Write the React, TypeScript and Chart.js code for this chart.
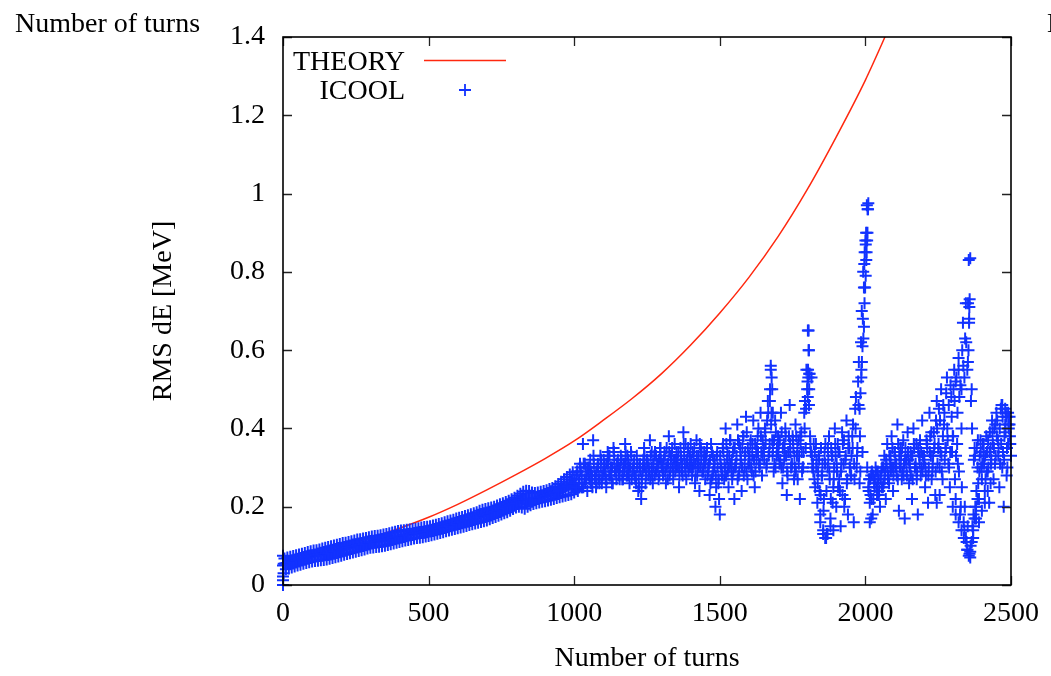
import React, { useEffect, useRef } from "react";
import { Chart, registerables } from "chart.js";

Chart.register(...registerables);

// ---------------- DATA ----------------
const xTitle = "Number of turns";
const yTitle = "RMS dE [MeV]";
const theoryLabel = "THEORY";
const icoolLabel = "ICOOL";

const xTickValues = [0, 500, 1000, 1500, 2000, 2500];
const xTickLabels = ["0", "500", "1000", "1500", "2000", "2500"];
const yTickValues = [0, 0.2, 0.4, 0.6, 0.8, 1.0, 1.2, 1.4];
const yTickLabels = ["0", "0.2", "0.4", "0.6", "0.8", "1", "1.2", "1.4"];

// Theory curve (every 100 turns)
const theoryTurns = [0, 100, 200, 300, 400, 500, 600, 700, 800, 900, 1000, 1100, 1200, 1300, 1400, 1500, 1600, 1700, 1800, 1900, 2000, 2100];
const theoryRms = [0.068, 0.082, 0.099, 0.12, 0.145, 0.173, 0.206, 0.243, 0.282, 0.323, 0.368, 0.421, 0.477, 0.54, 0.613, 0.695, 0.786, 0.89, 1.01, 1.145, 1.29, 1.455];

// ICOOL: one value every 5 turns, from turn 0 to turn 2500
const icoolStart = 0;
const icoolStep = 5;
const icoolMain = [
  // 0 - 95
  0.012, 0.068, 0.040, 0.070, 0.042, 0.072, 0.045, 0.074, 0.047, 0.076,
  0.050, 0.078, 0.052, 0.080, 0.054, 0.082, 0.056, 0.084, 0.058, 0.086,
  // 100 - 195
  0.060, 0.088, 0.061, 0.089, 0.062, 0.091, 0.063, 0.093, 0.064, 0.095,
  0.065, 0.097, 0.067, 0.099, 0.069, 0.101, 0.071, 0.103, 0.073, 0.105,
  // 200 - 295
  0.075, 0.107, 0.077, 0.108, 0.079, 0.110, 0.081, 0.112, 0.083, 0.114,
  0.085, 0.116, 0.087, 0.117, 0.089, 0.119, 0.091, 0.120, 0.093, 0.122,
  // 300 - 395
  0.095, 0.124, 0.096, 0.125, 0.097, 0.126, 0.098, 0.127, 0.099, 0.129,
  0.100, 0.130, 0.102, 0.132, 0.104, 0.134, 0.106, 0.136, 0.108, 0.138,
  // 400 - 495
  0.110, 0.139, 0.112, 0.140, 0.114, 0.141, 0.115, 0.142, 0.117, 0.143,
  0.119, 0.144, 0.120, 0.145, 0.121, 0.147, 0.122, 0.148, 0.124, 0.149,
  // 500 - 595
  0.125, 0.150, 0.127, 0.152, 0.129, 0.154, 0.131, 0.156, 0.133, 0.158,
  0.135, 0.160, 0.137, 0.163, 0.139, 0.165, 0.141, 0.167, 0.143, 0.170,
  // 600 - 695
  0.145, 0.172, 0.147, 0.174, 0.149, 0.176, 0.151, 0.178, 0.153, 0.181,
  0.155, 0.183, 0.157, 0.186, 0.159, 0.190, 0.161, 0.192, 0.163, 0.194,
  // 700 - 795
  0.165, 0.196, 0.168, 0.198, 0.171, 0.200, 0.174, 0.203, 0.177, 0.206,
  0.180, 0.209, 0.183, 0.212, 0.186, 0.215, 0.190, 0.219, 0.194, 0.223,
  // 800 - 895
  0.198, 0.228, 0.200, 0.233, 0.198, 0.238, 0.195, 0.241, 0.200, 0.240,
  0.204, 0.236, 0.207, 0.235, 0.209, 0.236, 0.211, 0.238, 0.213, 0.240,
  // 900 - 995
  0.214, 0.242, 0.216, 0.245, 0.218, 0.248, 0.220, 0.252, 0.222, 0.258,
  0.224, 0.264, 0.226, 0.270, 0.228, 0.276, 0.230, 0.282, 0.232, 0.288,
  // 1000
  0.236,
  // 1005 - 1100
  0.245, 0.29, 0.26, 0.31, 0.25, 0.36, 0.27, 0.30, 0.24, 0.28,
  0.32, 0.26, 0.37, 0.28, 0.25, 0.30, 0.27, 0.33, 0.26, 0.29,
  // 1105 - 1200
  0.31, 0.25, 0.34, 0.28, 0.30, 0.26, 0.35, 0.29, 0.27, 0.32,
  0.29, 0.33, 0.27, 0.31, 0.36, 0.28, 0.30, 0.26, 0.34, 0.29,
  // 1205 - 1300
  0.31, 0.27, 0.33, 0.24, 0.30, 0.22, 0.29, 0.35, 0.26, 0.32,
  0.28, 0.37, 0.30, 0.26, 0.33, 0.29, 0.31, 0.27, 0.35, 0.30,
  // 1305 - 1400
  0.28, 0.34, 0.26, 0.31, 0.38, 0.29, 0.33, 0.27, 0.36, 0.30,
  0.32, 0.25, 0.35, 0.29, 0.39, 0.31, 0.27, 0.34, 0.30, 0.36,
  // 1405 - 1500
  0.28, 0.33, 0.26, 0.37, 0.31, 0.24, 0.35, 0.29, 0.32, 0.27,
  0.34, 0.30, 0.23, 0.36, 0.28, 0.31, 0.20, 0.33, 0.26, 0.18,
  // 1505 - 1600
  0.30, 0.35, 0.27, 0.40, 0.32, 0.25, 0.37, 0.29, 0.34, 0.22,
  0.31, 0.41, 0.28, 0.35, 0.24, 0.38, 0.30, 0.43, 0.27, 0.33,
  // 1605 - 1700
  0.36, 0.29, 0.42, 0.25, 0.34, 0.38, 0.31, 0.44, 0.28, 0.35,
  0.40, 0.30, 0.47, 0.34, 0.55, 0.37, 0.29, 0.42, 0.33, 0.38,
  // 1705 - 1800
  0.31, 0.44, 0.26, 0.36, 0.40, 0.23, 0.34, 0.46, 0.30, 0.38,
  0.27, 0.41, 0.33, 0.37, 0.22, 0.39, 0.30, 0.44, 0.35, 0.50,
  // 1805 - 1900
  0.60, 0.38, 0.53, 0.31, 0.27, 0.36, 0.21, 0.33, 0.18, 0.28,
  0.14, 0.34, 0.12, 0.30, 0.38, 0.17, 0.33, 0.25, 0.40, 0.20,
  // 1905 - 2000
  0.36, 0.27, 0.15, 0.39, 0.31, 0.22, 0.42, 0.18, 0.35, 0.28,
  0.38, 0.16, 0.45, 0.30, 0.52, 0.26, 0.62, 0.34, 0.76, 0.88,
  // 2005 - 2100
  0.97, 0.25, 0.21, 0.28, 0.18, 0.26, 0.30, 0.23, 0.27, 0.20,
  0.29, 0.25, 0.33, 0.22, 0.36, 0.28, 0.31, 0.38, 0.24, 0.34,
  // 2105 - 2200
  0.30, 0.41, 0.19, 0.35, 0.27, 0.37, 0.17, 0.32, 0.39, 0.26,
  0.34, 0.22, 0.40, 0.30, 0.36, 0.18, 0.33, 0.28, 0.42, 0.31,
  // 2205 - 2300
  0.25, 0.37, 0.21, 0.44, 0.33, 0.29, 0.39, 0.23, 0.47, 0.35,
  0.30, 0.50, 0.27, 0.41, 0.35, 0.53, 0.31, 0.25, 0.48, 0.38,
  // 2305 - 2400
  0.55, 0.22, 0.36, 0.58, 0.18, 0.40, 0.67, 0.14, 0.72, 0.09,
  0.83, 0.07, 0.50, 0.12, 0.35, 0.17, 0.30, 0.22, 0.37, 0.27,
  // 2405 - 2500
  0.33, 0.24, 0.38, 0.29, 0.21, 0.35, 0.42, 0.27, 0.31, 0.44,
  0.37, 0.25, 0.45, 0.30, 0.20, 0.41, 0.28, 0.36, 0.43, 0.33,
];

// ICOOL: band middle, every 5 turns from turn 2.5 to 997.5
const icoolMidStart = 2.5;
const icoolMid = [
  0.054, 0.055, 0.056, 0.057, 0.058, 0.059, 0.060, 0.061, 0.062, 0.063,
  0.064, 0.066, 0.067, 0.068, 0.069, 0.070, 0.071, 0.072, 0.073, 0.074,
  0.074, 0.075, 0.076, 0.077, 0.078, 0.078, 0.079, 0.080, 0.080, 0.081,
  0.081, 0.082, 0.083, 0.084, 0.085, 0.086, 0.087, 0.088, 0.089, 0.090,
  0.091, 0.092, 0.093, 0.094, 0.095, 0.096, 0.096, 0.097, 0.098, 0.099,
  0.100, 0.101, 0.102, 0.103, 0.104, 0.105, 0.106, 0.107, 0.108, 0.109,
  0.110, 0.110, 0.111, 0.111, 0.112, 0.112, 0.113, 0.113, 0.114, 0.114,
  0.115, 0.116, 0.117, 0.118, 0.119, 0.120, 0.121, 0.122, 0.123, 0.124,
  0.125, 0.126, 0.127, 0.127, 0.128, 0.128, 0.129, 0.129, 0.130, 0.131,
  0.132, 0.132, 0.133, 0.133, 0.134, 0.135, 0.135, 0.136, 0.136, 0.137,
  0.138, 0.139, 0.140, 0.141, 0.142, 0.143, 0.144, 0.145, 0.145, 0.146,
  0.148, 0.149, 0.150, 0.151, 0.152, 0.153, 0.154, 0.155, 0.156, 0.157,
  0.159, 0.160, 0.161, 0.162, 0.163, 0.164, 0.165, 0.166, 0.166, 0.167,
  0.169, 0.170, 0.171, 0.173, 0.174, 0.175, 0.176, 0.177, 0.178, 0.179,
  0.181, 0.182, 0.183, 0.185, 0.186, 0.187, 0.188, 0.190, 0.191, 0.192,
  0.195, 0.196, 0.198, 0.199, 0.201, 0.202, 0.204, 0.205, 0.207, 0.209,
  0.213, 0.215, 0.216, 0.217, 0.218, 0.218, 0.219, 0.220, 0.220, 0.220,
  0.220, 0.221, 0.221, 0.222, 0.222, 0.223, 0.224, 0.225, 0.226, 0.227,
  0.228, 0.229, 0.230, 0.232, 0.233, 0.234, 0.236, 0.237, 0.238, 0.240,
  0.244, 0.246, 0.248, 0.250, 0.252, 0.254, 0.256, 0.257, 0.258, 0.260,
];

// ICOOL: second set, every 5 turns from turn 1002.5 to 2497.5
const icoolOffsetStart = 1002.5;
const icoolOffset = [
  0.26, 0.28, 0.24, 0.27, 0.29, 0.25, 0.31, 0.26, 0.28, 0.30,
  0.27, 0.29, 0.25, 0.31, 0.28, 0.26, 0.30, 0.27, 0.32, 0.28,
  0.29, 0.27, 0.31, 0.33, 0.28, 0.30, 0.26, 0.32, 0.29, 0.31,
  0.28, 0.30, 0.32, 0.27, 0.29, 0.31, 0.33, 0.28, 0.30, 0.27,
  0.30, 0.28, 0.26, 0.31, 0.25, 0.29, 0.27, 0.32, 0.30, 0.28,
  0.31, 0.29, 0.33, 0.28, 0.30, 0.34, 0.29, 0.31, 0.28, 0.32,
  0.30, 0.32, 0.29, 0.35, 0.31, 0.28, 0.33, 0.30, 0.32, 0.29,
  0.31, 0.34, 0.30, 0.32, 0.28, 0.33, 0.36, 0.31, 0.29, 0.33,
  0.32, 0.30, 0.35, 0.31, 0.28, 0.33, 0.30, 0.34, 0.29, 0.31,
  0.33, 0.28, 0.31, 0.26, 0.34, 0.29, 0.32, 0.25, 0.30, 0.22,
  0.31, 0.28, 0.34, 0.30, 0.36, 0.29, 0.33, 0.31, 0.27, 0.35,
  0.30, 0.33, 0.37, 0.29, 0.32, 0.35, 0.28, 0.34, 0.39, 0.31,
  0.33, 0.30, 0.36, 0.32, 0.29, 0.35, 0.40, 0.31, 0.34, 0.37,
  0.32, 0.36, 0.42, 0.33, 0.50, 0.44, 0.35, 0.31, 0.39, 0.34,
  0.36, 0.32, 0.39, 0.30, 0.35, 0.33, 0.28, 0.38, 0.34, 0.31,
  0.35, 0.30, 0.38, 0.27, 0.33, 0.36, 0.29, 0.34, 0.47, 0.55,
  0.65, 0.54, 0.34, 0.30, 0.36, 0.25, 0.32, 0.29, 0.24, 0.35,
  0.31, 0.22, 0.36, 0.13, 0.32, 0.27, 0.35, 0.21, 0.30, 0.33,
  0.29, 0.34, 0.24, 0.31, 0.36, 0.20, 0.33, 0.27, 0.38, 0.30,
  0.33, 0.41, 0.27, 0.48, 0.35, 0.57, 0.29, 0.70, 0.80, 0.85,
  0.90, 0.96, 0.27, 0.23, 0.29, 0.22, 0.27, 0.25, 0.29, 0.24,
  0.27, 0.30, 0.26, 0.29, 0.31, 0.27, 0.33, 0.29, 0.35, 0.30,
  0.32, 0.28, 0.36, 0.30, 0.33, 0.29, 0.31, 0.35, 0.28, 0.32,
  0.30, 0.33, 0.27, 0.35, 0.31, 0.29, 0.34, 0.37, 0.30, 0.33,
  0.32, 0.28, 0.35, 0.30, 0.38, 0.27, 0.33, 0.36, 0.42, 0.31,
  0.45, 0.34, 0.29, 0.46, 0.32, 0.49, 0.37, 0.30, 0.51, 0.34,
  0.50, 0.27, 0.53, 0.31, 0.48, 0.20, 0.60, 0.16, 0.63, 0.11,
  0.72, 0.08, 0.47, 0.15, 0.32, 0.20, 0.35, 0.26, 0.33, 0.30,
  0.36, 0.31, 0.27, 0.34, 0.30, 0.39, 0.32, 0.36, 0.40, 0.33,
  0.42, 0.35, 0.31, 0.46, 0.34, 0.38, 0.44, 0.30, 0.40, 0.36,
];

// ICOOL: third set, every 5 turns from turn 1001.25 to 2496.25
const icoolThirdStart = 1001.25;
const icoolThird = [
  0.27, 0.25, 0.29, 0.26, 0.30, 0.28, 0.25, 0.31, 0.27, 0.29,
  0.30, 0.26, 0.28, 0.33, 0.27, 0.29, 0.31, 0.26, 0.30, 0.28,
  0.32, 0.29, 0.27, 0.31, 0.33, 0.28, 0.30, 0.34, 0.29, 0.31,
  0.30, 0.27, 0.32, 0.29, 0.31, 0.34, 0.28, 0.32, 0.30, 0.33,
  0.29, 0.32, 0.28, 0.30, 0.27, 0.31, 0.25, 0.30, 0.33, 0.29,
  0.32, 0.30, 0.27, 0.34, 0.31, 0.28, 0.33, 0.30, 0.32, 0.35,
  0.31, 0.29, 0.33, 0.30, 0.27, 0.34, 0.31, 0.35, 0.29, 0.32,
  0.34, 0.30, 0.28, 0.33, 0.31, 0.36, 0.29, 0.32, 0.35, 0.31,
  0.30, 0.34, 0.31, 0.28, 0.33, 0.30, 0.36, 0.32, 0.29, 0.34,
  0.31, 0.35, 0.29, 0.32, 0.27, 0.33, 0.30, 0.28, 0.34, 0.27,
  0.33, 0.29, 0.36, 0.31, 0.28, 0.34, 0.30, 0.37, 0.32, 0.29,
  0.35, 0.31, 0.27, 0.36, 0.32, 0.30, 0.38, 0.33, 0.29, 0.35,
  0.31, 0.37, 0.33, 0.28, 0.36, 0.32, 0.34, 0.30, 0.38, 0.33,
  0.35, 0.39, 0.31, 0.44, 0.36, 0.41, 0.33, 0.37, 0.30, 0.35,
  0.33, 0.37, 0.30, 0.35, 0.32, 0.38, 0.29, 0.34, 0.36, 0.31,
  0.37, 0.33, 0.29, 0.35, 0.31, 0.38, 0.34, 0.30, 0.40, 0.45,
  0.52, 0.46, 0.36, 0.33, 0.29, 0.34, 0.30, 0.26, 0.32, 0.23,
  0.28, 0.19, 0.31, 0.24, 0.35, 0.29, 0.22, 0.33, 0.27, 0.36,
  0.31, 0.25, 0.34, 0.29, 0.23, 0.37, 0.32, 0.26, 0.35, 0.30,
  0.28, 0.35, 0.31, 0.40, 0.33, 0.46, 0.38, 0.55, 0.68, 0.82,
  0.87, 0.30, 0.24, 0.27, 0.22, 0.28, 0.25, 0.29, 0.26, 0.23,
  0.28, 0.25, 0.30, 0.27, 0.32, 0.29, 0.26, 0.33, 0.30, 0.28,
  0.34, 0.31, 0.27, 0.33, 0.30, 0.35, 0.28, 0.32, 0.29, 0.34,
  0.31, 0.28, 0.33, 0.36, 0.30, 0.27, 0.35, 0.31, 0.34, 0.29,
  0.33, 0.30, 0.36, 0.28, 0.34, 0.39, 0.31, 0.35, 0.29, 0.40,
  0.36, 0.42, 0.33, 0.38, 0.44, 0.35, 0.40, 0.46, 0.34, 0.43,
  0.38, 0.47, 0.33, 0.44, 0.29, 0.51, 0.25, 0.56, 0.20, 0.62,
  0.15, 0.68, 0.10, 0.40, 0.18, 0.33, 0.24, 0.37, 0.29, 0.34,
  0.31, 0.36, 0.33, 0.29, 0.37, 0.34, 0.31, 0.39, 0.35, 0.41,
  0.38, 0.33, 0.40, 0.36, 0.43, 0.32, 0.39, 0.35, 0.41, 0.38,
];

// ICOOL: individual extra points (spikes, dips, start)
const icoolExtraTurns = [
  0, 0, 0, 0, 2,
  1672, 1675, 1678, 1680, 1682,
  1802, 1803, 1804, 1805, 1806, 1807, 1808,
  1980, 1983, 1986, 1988, 1990, 1993, 1995, 1997, 1999, 2001, 2003, 2004, 2006, 2007, 2009, 2010,
  2310, 2320, 2330, 2340, 2350, 2352, 2354, 2356, 2357, 2358, 2360,
  2345, 2350, 2355, 2360, 2365, 2370, 2375, 2380, 2385,
  2300, 2310, 2320, 2330, 2338, 2390, 2400, 2410, 2420, 2430,
  1855, 1862, 1870, 1880, 1845, 1890,
  2470, 2480, 2485, 2490, 2495,
  2015, 2020, 2245, 2255,
];
const icoolExtraRms = [
  0.0, 0.022, 0.05, 0.075, 0.03,
  0.47, 0.56, 0.53, 0.50, 0.44,
  0.48, 0.55, 0.53, 0.65, 0.60, 0.50, 0.54,
  0.45, 0.49, 0.53, 0.57, 0.61, 0.63, 0.66, 0.72, 0.76, 0.79, 0.83, 0.85, 0.88, 0.90, 0.96, 0.975,
  0.52, 0.55, 0.50, 0.53, 0.55, 0.57, 0.60, 0.67, 0.71, 0.73, 0.835,
  0.12, 0.09, 0.075, 0.085, 0.11, 0.14, 0.17, 0.20, 0.22,
  0.20, 0.18, 0.16, 0.14, 0.12, 0.16, 0.19, 0.21, 0.24, 0.26,
  0.13, 0.12, 0.13, 0.15, 0.16, 0.14,
  0.46, 0.45, 0.43, 0.44, 0.41,
  0.16, 0.17, 0.21, 0.23,
];

// ---------------- STYLE ----------------
const FONT_FAMILY = "'Liberation Serif', 'Times New Roman', serif";
const FONT_SIZE = 28;
const RED = "rgb(255, 40, 15)";
const BLUE = "rgb(18, 50, 255)";

const W = 1051;
const H = 676;

function pushSeries(pts: { x: number; y: number }[], start: number, values: number[]) {
  values.forEach((v, i) => pts.push({ x: start + i * icoolStep, y: v }));
}

function buildIcool() {
  const pts: { x: number; y: number }[] = [];
  pushSeries(pts, icoolStart, icoolMain);
  pushSeries(pts, icoolMidStart, icoolMid);
  pushSeries(pts, icoolOffsetStart, icoolOffset);
  pushSeries(pts, icoolThirdStart, icoolThird);
  icoolExtraTurns.forEach((t, i) => pts.push({ x: t, y: icoolExtraRms[i] }));
  return pts;
}

const gnuplotPlugin = {
  id: "gnuplotDecor",
  afterDraw(chart: any) {
    const { ctx, chartArea } = chart;
    const { left, right, top, bottom } = chartArea;
    const xs = chart.scales.x;
    const ys = chart.scales.y;
    ctx.save();
    // inward ticks (all four sides)
    ctx.strokeStyle = "#222";
    ctx.lineWidth = 1.3;
    const tl = 9;
    xTickValues.forEach((v) => {
      const px = Math.round(xs.getPixelForValue(v)) + 0.5;
      ctx.beginPath();
      ctx.moveTo(px, bottom);
      ctx.lineTo(px, bottom - tl);
      ctx.moveTo(px, top);
      ctx.lineTo(px, top + tl);
      ctx.stroke();
    });
    yTickValues.forEach((v) => {
      const py = Math.round(ys.getPixelForValue(v)) + 0.5;
      ctx.beginPath();
      ctx.moveTo(left, py);
      ctx.lineTo(left + tl, py);
      ctx.moveTo(right, py);
      ctx.lineTo(right - tl, py);
      ctx.stroke();
    });
    // frame
    ctx.strokeStyle = "#000";
    ctx.lineWidth = 1.6;
    ctx.strokeRect(left, top, right - left, bottom - top);

    // legend (top-left inside the frame)
    ctx.font = `${FONT_SIZE}px ${FONT_FAMILY}`;
    ctx.fillStyle = "#000";
    ctx.textAlign = "right";
    ctx.textBaseline = "alphabetic";
    const lx = left + 122;
    ctx.fillText(theoryLabel, lx, top + 33);
    ctx.fillText(icoolLabel, lx, top + 62);
    ctx.strokeStyle = RED;
    ctx.lineWidth = 1.5;
    ctx.beginPath();
    ctx.moveTo(lx + 19, top + 23.5);
    ctx.lineTo(lx + 101, top + 23.5);
    ctx.stroke();
    ctx.strokeStyle = BLUE;
    ctx.lineWidth = 1.8;
    ctx.beginPath();
    const cx = lx + 60;
    const cy = top + 53;
    ctx.moveTo(cx - 6, cy);
    ctx.lineTo(cx + 6, cy);
    ctx.moveTo(cx, cy - 6);
    ctx.lineTo(cx, cy + 6);
    ctx.stroke();

    // stray axis labels at the top corners
    ctx.fillStyle = "#000";
    ctx.textAlign = "left";
    ctx.fillText(xTitle, 15, 32);
    ctx.fillText(xTitle, W - 4, 32);
    ctx.restore();
  },
};

export default function App() {
  const ref = useRef<HTMLCanvasElement | null>(null);

  useEffect(() => {
    document.body.style.margin = "0";
    document.body.style.overflow = "hidden";
    if (!ref.current) return;
    const font = { family: FONT_FAMILY, size: FONT_SIZE };
    const chart = new Chart(ref.current, {
      type: "scatter",
      data: {
        datasets: [
          {
            label: icoolLabel,
            data: buildIcool(),
            pointStyle: "cross",
            pointRadius: 6,
            pointBorderWidth: 2,
            borderColor: BLUE,
            backgroundColor: BLUE,
            borderWidth: 2,
            clip: false,
            order: 1,
          } as any,
          {
            type: "line",
            label: theoryLabel,
            data: theoryTurns.map((t, i) => ({ x: t, y: theoryRms[i] })),
            borderColor: RED,
            borderWidth: 1.5,
            pointRadius: 0,
            fill: false,
            cubicInterpolationMode: "monotone",
            order: 2,
          } as any,
        ],
      },
      options: {
        animation: false,
        responsive: false,
        events: [],
        layout: { padding: { top: 37, right: 37, left: 0, bottom: 0 } },
        plugins: {
          legend: { display: false },
          tooltip: { enabled: false },
        },
        scales: {
          x: {
            type: "linear",
            min: 0,
            max: 2500,
            afterBuildTicks: (scale: any) => {
              scale.ticks = xTickValues.map((v) => ({ value: v }));
            },
            afterFit: (scale: any) => {
              scale.height = 91;
            },
            ticks: {
              font,
              color: "#000",
              padding: 12,
              maxRotation: 0,
              autoSkip: false,
              callback: (_v: any, i: number) => xTickLabels[i],
            },
            grid: { display: false, drawTicks: false },
            border: { display: false },
            title: {
              display: true,
              text: xTitle,
              font,
              color: "#000",
              padding: { top: 0, bottom: 1 },
            },
          },
          y: {
            type: "linear",
            min: 0,
            max: 1.4,
            afterBuildTicks: (scale: any) => {
              scale.ticks = yTickValues.map((v) => ({ value: v }));
            },
            afterFit: (scale: any) => {
              scale.width = 283;
            },
            ticks: {
              font,
              color: "#000",
              padding: 18,
              autoSkip: false,
              callback: (_v: any, i: number) => yTickLabels[i],
            },
            grid: { display: false, drawTicks: false },
            border: { display: false },
            title: {
              display: true,
              text: yTitle,
              font,
              color: "#000",
              padding: { top: 147, bottom: 0 },
            },
          },
        },
      },
      plugins: [gnuplotPlugin],
    } as any);
    return () => chart.destroy();
  }, []);

  return <canvas ref={ref} width={W} height={H} style={{ display: "block" }} />;
}
